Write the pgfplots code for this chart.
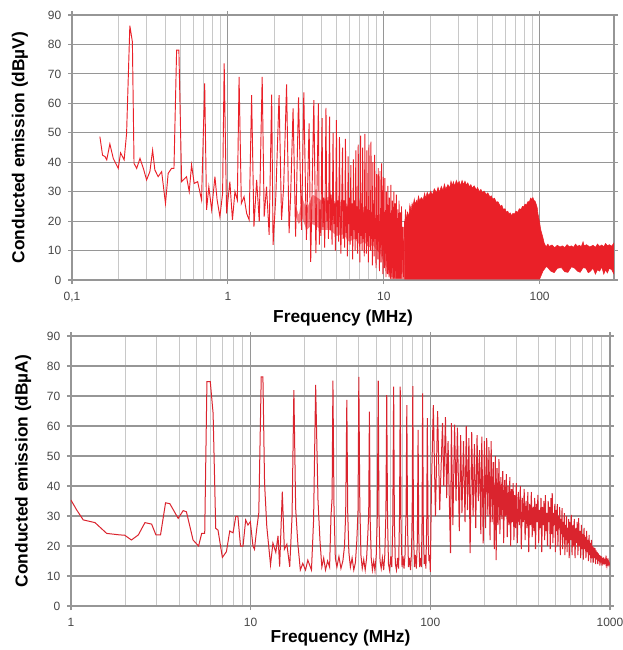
\documentclass[border=0pt]{standalone}
\usepackage{fontspec}
\setmainfont{Liberation Sans}
\usepackage{pgfplots}
\pgfplotsset{compat=1.18}

\definecolor{emi}{RGB}{234,32,40}
\definecolor{emidark}{RGB}{218,36,46}
\definecolor{gridmaj}{RGB}{150,150,150}
\definecolor{gridmin}{RGB}{200,200,200}
\definecolor{ticktext}{RGB}{70,70,70}

\pgfplotsset{
  every axis/.append style={
    scale only axis,
    ymin=0, ymax=90, ytick={0,10,...,90},
    grid=both,
    major grid style={gridmaj, line width=0.9pt},
    minor grid style={gridmin, line width=0.7pt},
    axis line style={gridmaj, line width=0.9pt},
    tick align=outside,
    major tick length=3pt, minor tick length=0pt,
    tick style={gridmaj, line width=0.8pt},
    ticklabel style={font=\fontsize{9}{10}\selectfont, text=ticktext},
    xticklabel style={yshift=-2.5pt},
    yticklabel style={xshift=-1.5pt},
    label style={font=\bfseries\fontsize{13}{15}\selectfont},
    xlabel={Frequency (MHz)},
  },
  /pgf/number format/assume math mode=true,
}

\begin{document}
\begin{tikzpicture}
\useasboundingbox (0,0) rectangle (467.25pt,-487.5pt);

% ---------- upper chart: voltage ----------
\begin{axis}[
  xmode=log,
  at={(54pt,-210pt)}, anchor=south west,
  width=406.5pt, height=198.75pt,
  xmin=0.1, xmax=300,
  xtick={0.1,1,10,100}, xticklabels={{0,1},1,10,100},
  ylabel={Conducted emission (dBµV)},
  xlabel style={at={(axis description cs:0.5,-0.145)}, anchor=center},
  ylabel style={at={(axis description cs:-0.096,0.5)}, anchor=center},
]
% dense noise band below the harmonics
\addplot[fill=emi, fill opacity=0.55, draw=none] coordinates {
  (2.7,26)(2.85,22)(3.0,28)(3.2,24)(3.5,29)(4,27)(4.5,28.5)(5,26)(5.5,27)(6,25)(6.5,26)(7,23.5)(7.5,25)
  (8,22.5)(8.5,23.5)(9,21.5)(9.5,22.5)(10,20.5)(10.5,21)(11,18.5)(11.5,19.5)(12,17.5)(13,18)(13.6,18)
  (13.6,0.3)(11,0.3)(10.5,4)(10,6)(9.5,9)(9,10)(8.5,12)(8,11)(7.5,13)(7,12)(6.5,14)
  (6,13)(5.5,15.5)(5,15)(4.5,17)(4,17)(3.5,19)(3.2,17)(3.0,21)(2.85,19)(2.7,22)(2.7,26)
};
% harmonics and noise, 0.15 to 13.6 MHz
\addplot[emi, line width=0.7pt] coordinates {
  (0.151,48.7)(0.157,42.4)(0.163,41.9)(0.167,40.8)(0.175,46.2)(0.184,41.3)(0.198,37.9)
  (0.205,43.2)(0.216,40.8)(0.224,49.8)(0.235,86.4)(0.244,80.9)(0.250,39.6)(0.260,37.9)
  (0.273,41.3)(0.287,37.9)(0.301,34)(0.316,36.8)(0.329,44.1)(0.340,37.4)(0.357,35.1)
  (0.376,36.8)(0.398,26)(0.414,36.2)(0.435,37.9)(0.451,37.9)(0.469,78.1)(0.485,78.1)
  (0.505,33.4)(0.543,35.1)(0.565,30)(0.585,39.1)(0.608,32.8)(0.640,33.4)(0.678,27.2)
  (0.710,66.8)(0.730,23.8)(0.755,31.7)(0.787,23.8)(0.826,35.1)(0.853,27.2)(0.889,21.5)
  (0.925,29.4)(0.947,73.6)(0.981,22.6)(1.03,33.4)(1.07,20.4)(1.11,30)(1.15,27.2)
  (1.18,69)(1.22,26)(1.27,28.3)(1.32,22.6)(1.37,20.4)(1.42,62.8)(1.47,18.1)(1.53,34)
  (1.59,19.8)(1.66,69)(1.71,21.5)(1.77,31.7)(1.84,15.3)(1.91,63)(1.95,11.9)(2.03,28.3)
  (2.13,62.8)(2.21,20.4)(2.28,31.7)(2.38,66.4)(2.47,15.9)(2.53,29.4)(2.62,58.3)
  (2.72,14.7)(2.84,62)(2.97,17)(3.07,63.7)(3.19,13.6)(3.32,53.2)(3.40,6.2)(3.56,61.1)
  (3.67,9.1)(3.81,60)
  (3.86,12)(3.90,24)(3.95,15)(4.02,55)(4.07,18)(4.12,28)(4.18,11)(4.26,58.5)(4.31,20)
  (4.36,27)(4.42,14)(4.49,55.5)(4.54,17)(4.6,29)(4.66,12)(4.73,50)(4.78,19)(4.84,26)
  (4.9,10)(4.97,54.3)(5.02,18)(5.08,27)(5.13,13)(5.2,48.5)(5.25,21)(5.31,9)(5.37,26)
  (5.44,45)(5.49,14)(5.55,27)(5.61,11)(5.68,47.9)(5.73,16)(5.79,25)(5.85,8)(5.91,42)
  (5.96,19)(6.02,28)(6.08,12)(6.15,39)(6.2,15)(6.26,26)(6.32,7)(6.39,41)(6.44,17)
  (6.5,27)(6.56,10)(6.62,44)(6.67,14)(6.73,25)(6.79,9)(6.86,46)(6.91,16)(6.97,24)
  (7.03,6)(7.1,49)(7.15,15)(7.21,26)(7.27,10)(7.33,45)(7.38,14)(7.44,23)(7.5,8)
  (7.57,49.6)(7.62,16)(7.68,25)(7.74,9)(7.8,44)(7.85,13)(7.91,24)(7.97,6)(8.04,46)
  (8.09,15)(8.15,22)(8.21,10)(8.28,47)(8.33,14)(8.39,23)(8.45,5)(8.51,40)(8.56,13)
  (8.62,22)(8.68,8)(8.75,42.5)(8.8,14)(8.86,21)(8.92,4)(8.99,36)(9.04,12)(9.1,22)
  (9.16,7)(9.22,38)(9.27,13)(9.33,20)(9.39,3)(9.46,37)(9.51,11)(9.57,21)(9.63,6)
  (9.7,39.6)(9.75,12)(9.81,19)(9.87,2)(9.93,35)(9.98,10)(10.04,20)(10.1,4)(10.17,34.6)
  (10.22,9)(10.28,18)(10.34,1)(10.41,30)(10.46,8)(10.52,19)(10.58,2)(10.64,32)(10.69,7)
  (10.75,17)(10.81,1)(10.88,28)(10.93,6)(10.99,18)(11.05,0.5)(11.12,32.3)(11.17,5)
  (11.23,16)(11.29,1)(11.35,27)(11.4,4)(11.46,17)(11.52,0.5)(11.6,30)(11.65,5)(11.7,15)
  (11.76,0.5)(11.83,26)(11.88,3)(11.94,16)(12.0,0.5)(12.06,29)(12.11,4)(12.17,14)
  (12.23,0.5)(12.3,24)(12.35,3)(12.41,15)(12.47,0.5)(12.53,27)(12.58,2)(12.64,13)
  (12.7,0.5)(12.77,23)(12.82,3)(12.88,14)(12.94,0.5)(13.0,25)(13.05,2)(13.2,18)(13.4,1)(13.6,20)
};
% solid broadband hump above 13.6 MHz
\addplot[fill=emi, draw=emi, line width=0.4pt] coordinates {
  (13.6,18)(13.8,24)(14.0,20)(14.2,23)(14.5,21.5)(14.7,25.5)(15.0,23.5)(15.2,26)(15.4,25)
  (15.7,27.5)(15.9,25.5)(16.2,27)(16.4,26)(16.7,28.5)(17.0,26.8)(17.4,28)(17.9,27.2)(18.3,29.5)
  (18.6,27.6)(19.0,29.8)(19.5,28.6)(20.0,30.2)(20.5,28.8)(21.1,31)(21.8,29.6)(22.3,31.5)
  (22.8,29.8)(23.4,31.8)(24,30.4)(24.5,32.6)(25,30.8)(25.8,32.4)(26.5,31.2)(27.0,33.6)
  (27.5,32)(28.0,33.4)(28.5,31.8)(29.2,33.8)(29.9,32.6)(30.5,33.5)(31,32)(31.8,33.8)
  (32.5,32.4)(33.2,33.6)(33.9,32.2)(34.6,33)(35.5,31.6)(36.2,32.4)(37,31.2)(38,32)
  (39.3,30.6)(40,31.4)(41,30)(42,30.8)(43,29.6)(44,30.2)(45.5,29)(46.5,29.6)(48,28.2)
  (49,28.6)(50,27.4)(51.3,27.8)(52.8,26.4)(54,26.6)(56,25)(57.2,25.4)(58.5,24)(60,24.2)
  (61.2,23)(62.5,23.4)(63.5,22.4)(64.8,22.8)(65.9,21.9)(67.4,22.6)(69,22.4)(70.5,23.4)
  (72.6,23)(74,24.2)(76,24)(77.6,25)(79,24.8)(80.6,25.8)(82.2,25.4)(84,26.6)(86,26.6)
  (87.5,27.8)(89.3,27.4)(90.5,28)(92,27)(93.5,26.8)(95.3,25.6)(96.5,24.5)(97.5,22.6)(98.8,21)
  (100,19.6)(101,18)(102,16.8)(103.5,15.6)(105,14.4)(107,12.5)(110,11.3)(113,12.2)(115,11.4)
  (120,11.9)(125,11)(130,11.8)(135,11.2)(140,11.6)(145,11)(150,12)(155,11.3)(160,11.6)
  (165,11.1)(170,12.2)(175,11.4)(180,11.8)(185,11.3)(190,13)(193,11.6)(200,12)(210,11.2)
  (220,11.8)(228,11.1)(235,12.2)(243,11.4)(250,11.9)(258,11.3)(265,12.4)(272,11.6)(280,12)
  (290,11.5)(300,12.6)
  (300,2)(290,3.5)(280,4)(272,2.4)(265,3.5)(258,2)(250,4.5)(243,3)(235,3.5)(228,2)(220,4)
  (210,2.8)(205,2.5)(198,4)(190,4.2)(182,2.6)(175,3)(168,4)(160,4.5)(152,2.6)(145,2.8)
  (138,4.2)(130,4)(124,2.5)(118,3)(112,4.4)(110,4.5)(105,3)(100,0.3)(13.6,0.3)(13.6,18)
};
\end{axis}

% ---------- lower chart: current ----------
\begin{axis}[
  xmode=log,
  at={(53.25pt,-454.5pt)}, anchor=south west,
  width=404.25pt, height=202.5pt,
  xmin=1, xmax=1000,
  xtick={1,10,100,1000}, xticklabels={1,10,100,1000},
  ylabel={Conducted emission (dBµA)},
  xlabel style={at={(axis description cs:0.5,-0.118)}, anchor=center},
  ylabel style={at={(axis description cs:-0.089,0.5)}, anchor=center},
]
\addplot[emidark, line width=0.75pt] coordinates {
  (1,35.3)(1.076,32)(1.17,28.7)(1.36,27.8)(1.58,24.2)(1.87,23.7)(1.99,23.6)(2.17,22)
  (2.37,23.7)(2.58,27.8)(2.81,27.3)(2.97,23.7)(3.15,23.7)(3.36,34.4)(3.55,34.1)(3.95,29.2)
  (4.21,31.8)(4.39,31.4)(4.78,22)(5.13,20)(5.34,24.2)(5.55,24.2)(5.71,74.8)(5.96,74.8)
  (6.18,64.2)(6.39,25.9)(6.58,25.3)(6.96,16.2)(7.33,18.1)(7.65,25)(7.98,24.4)(8.27,29.9)
  (8.49,29.9)(8.78,20)(9.07,20)(9.38,28.7)(9.66,27)(9.96,28.1)(10.3,20)(10.5,18.9)
  (10.8,25.6)(11.1,31.1)(11.45,76.4)(11.7,76.4)(11.95,40.9)(12.3,26.4)(12.9,13.7)(13.3,21)
  (13.8,17.9)(14.2,23.4)(14.5,13.1)(15.0,38.1)(15.4,18.9)(15.9,20.6)(16.5,13.1)(17.0,30)
  (17.4,72)(17.8,32.6)(18.3,21)(18.9,12)(19.5,14.2)(20.2,12)(20.8,15.3)(21.8,12)(22.4,28.7)
  (23.0,73.7)(23.7,35.3)
  (24.3,22)(24.9,13)(25.5,16)(26.1,12)(26.8,15)(27.5,13)(28.0,30)(28.4,36)(28.7,75.1)
  (29.1,33)(29.6,16)(30.2,13)(31,16.5)(31.8,12.5)(32.6,15)(33.3,20)(33.8,31)(34.3,68.7)
  (34.7,31)(35.2,18)(35.9,13)(36.7,16)(37.5,12)(38.3,14.5)(39.0,22)(39.6,32)(40.0,76.4)
  (40.5,34)(41.1,17)(41.8,12.5)(42.6,15.5)(43.4,12)(44.2,16)(44.9,24)(45.4,31)(45.8,64.8)
  (46.3,28)(46.9,16)(47.6,12)(48.4,15)(49.2,11.8)(50.0,17)(50.7,30)(51.3,75.1)(51.8,30)
  (52.5,15)(53.3,12.5)(54.1,16)(55.0,12)(55.8,17)(56.6,31)(57.2,70.3)(57.8,29)(58.5,14)
  (59.3,12)(60.2,16.5)(61.0,13)(61.8,27)(62.5,73.1)(63.1,28)(63.9,14)(64.8,12)(65.7,16)
  (66.6,12.5)(67.4,30)(68.0,73.1)(68.7,27)(69.6,13)(70.5,16.5)(71.4,12.5)(72.3,17)(73.3,31)
  (74.0,67)(74.7,26)(75.6,13)(76.6,16)(77.6,12)(78.6,18)(79.3,32)(79.9,73.3)(80.6,25)
  (81.6,13)(82.6,17)(83.6,12.5)(84.7,22)(85.5,58.7)(86.2,24)(87.2,13)(88.2,16)(89.2,13)
  (90.0,30)(90.6,70.9)(91.4,26)(92.5,14)(93.5,17)(94.5,12.5)(95.5,28)(96.2,62.6)(97.2,25)
  (98.2,15)(99.2,17)(100,11.4)
  (101.5,40)(103.9,67)(106.8,30)(109.8,65)(112.8,32)(116.9,61)(118.8,40)(121.4,63)(123.3,36)
  (125.5,55)(129.5,17.6)(131,61)(133.5,27)(136.5,60.5)(139,35)(141.5,59.5)(145,25)(147.5,57)
  (150,31)(153,55)(156,28)(158.5,60)(161,32)(164,56)(166.5,17.6)(170,58)(173,30)(176,54)
  (179,26)(182,57)(185,35)(188,52)(191,24)(193.5,56.5)(197,20.9)
  (200,55)(203,26)(206,56)(209,30)(212,53)(215,22)(218,55)(221,28)(224,48)(227,19)(230,50)
  (232.5,15.3)(235,46)(238,27)(241,49)(244,24)(247,43)(250,29)(253,45)(256,21)(259,42)
  (262,30)(265,44)(268,23)(271,40)(274,27)(277,43)(280,20)(283,39)(286,28)(289,41)(292,22)
  (295,37)(298,26)(301,41)
  (305,21)(309,38)(313,27)(317,40)(321,19)(325,36)(329,28)(333,39)(337,22)(341,35)(345,26)
  (349,38)(353,18)(357,34)(361,27)(365,38)(369,23)(373,33)(377,25)(381,36)(385,19)(389,34)
  (393,28)(397,37)(401,21)(405,32)(409,26)(413,36)(417,18)(421,33)(425,27)(429,35)(433,22)
  (437,37)(441,25)(445,31)(449,20)(453,35)(457,28)(461,33)(465,19)(469,36)(473,24)(477,37.6)
  (481,21)(485,31)(489,27)(493,34)(497,18)(501,32)(505,25)(509,34)(513,20)(517,30)(521,26)
  (525,33)(529,17)(533,29)(537,24)(541,32.6)(545,19)(549,28)(553,23)(557,31)(561,17)(565,27)
  (569,22)(573,30)(577,18)(581,26)(585,21)(589,29)(593,16)(597,28)
  (603,22)(609,30.4)(615,17)(621,27)(627,20)(633,29)(639,16)(645,26)(651,21)(657,28)(663,17)
  (669,29.3)(675,20)(681,25)(687,16)(693,27)(699,19)(705,24)(711,15.5)(717,26)(723,19)
  (729,23)(735,16)(741,25)(747,18)(753,22)(759,15)(765,23.7)(771,17)(777,21)(783,14.5)
  (789,22)(795,16)(801,20)(807,14.5)(813,19.5)(819,16)(825,19.3)(831,14)(837,18.5)(843,15.5)
  (849,18)(855,14)(861,17.5)(867,15)(873,17)(879,13.5)(885,16.8)(891,14.5)(897,16.5)
  (903,13.5)(909,16)(915,14)(921,16.2)(927,13.8)(933,15.8)(939,14)(943,15.4)(950,14)
  (957,15.5)(963,13.6)(970,15)(977,14)(984,15)(991,13.8)(1000,14.5)
};
\end{axis}
\end{tikzpicture}
\end{document}
